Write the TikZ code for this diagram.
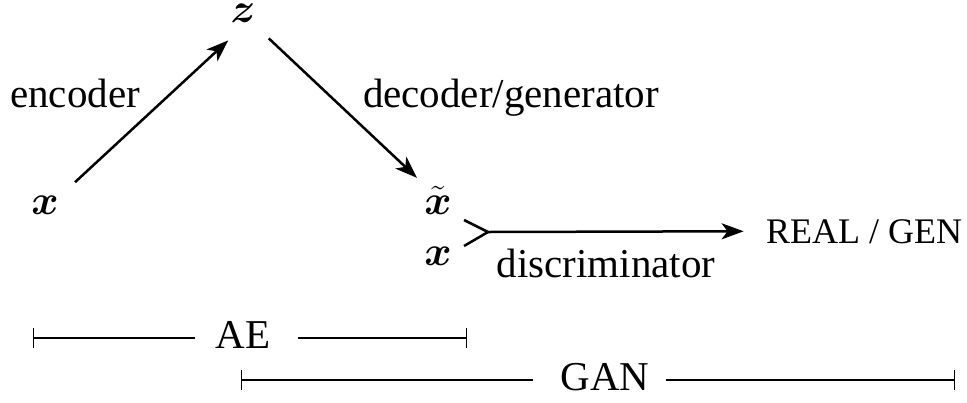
\documentclass[tikz,border=0pt]{standalone}
\usepackage{amsmath}
\usepackage{fontspec}
\setmainfont{Liberation Serif}
\usetikzlibrary{arrows.meta}
\begin{document}
\begin{tikzpicture}[x=0.5pt,y=-0.5pt,
  lbl/.style={font=\fontsize{20.5}{24}\selectfont, inner sep=0pt, anchor=base},
  arr/.style={line width=1.25pt, -{Stealth[length=11pt,width=8pt,inset=3pt]}},
  merge/.style={line width=1.25pt, line join=miter},
  bar/.style={line width=0.7pt},
  barl/.style={bar, {Bar[width=10pt,line width=0.7pt]}-},
  barr/.style={bar, -{Bar[width=10pt,line width=0.7pt]}}]
\useasboundingbox (0,0) rectangle (967,402);
% math nodes
\node[lbl] (z) at (243,22) {$\boldsymbol{z}$};
\node[lbl] (x) at (45,214) {$\boldsymbol{x}$};
\node[lbl] (xt) at (438,214) {$\tilde{\boldsymbol{x}}$};
\node[lbl] (xl) at (438,265) {$\boldsymbol{x}$};
% text labels
\node[lbl] (enc) at (75,107) {encoder};
\node[lbl] (dec) at (511,107) {decoder/generator};
\node[lbl] (dis) at (606,277) {discriminator};
\node[lbl, font=\fontsize{18}{21}\selectfont] (real) at (864,243) {REAL / GEN};
% arrows
\draw[arr] ([shift={(16,-13)}]x.north east) -- ([shift={(-2,18)}]z.south west);
\draw[arr] ([shift={(13,16)}]z.south east) -- ([shift={(-7,-8)}]xt.north west);
\coordinate (m) at (488,232);
\coordinate (a1) at (464,220);
\coordinate (a2) at (464,246);
\draw[merge] (a1) -- (m) -- (a2);
\draw[arr] (m) -- ([shift={(-22,0)}]real.west);
% bars
\node[lbl] (ae) at (243,348) {AE};
\coordinate (aeL) at (33,338);
\coordinate (aeR) at (467,338);
\draw[barl] (aeL) -- ([shift={(-20,0)}]ae.west |- aeL);
\draw[barr] ([shift={(27,0)}]ae.east |- aeR) -- (aeR);
\node[lbl] (gan) at (605,390) {GAN};
\coordinate (ganL) at (241,380);
\coordinate (ganR) at (955,380);
\draw[barl] (ganL) -- ([shift={(-27,0)}]gan.west |- ganL);
\draw[barr] ([shift={(16,0)}]gan.east |- ganR) -- (ganR);
\end{tikzpicture}
\end{document}
